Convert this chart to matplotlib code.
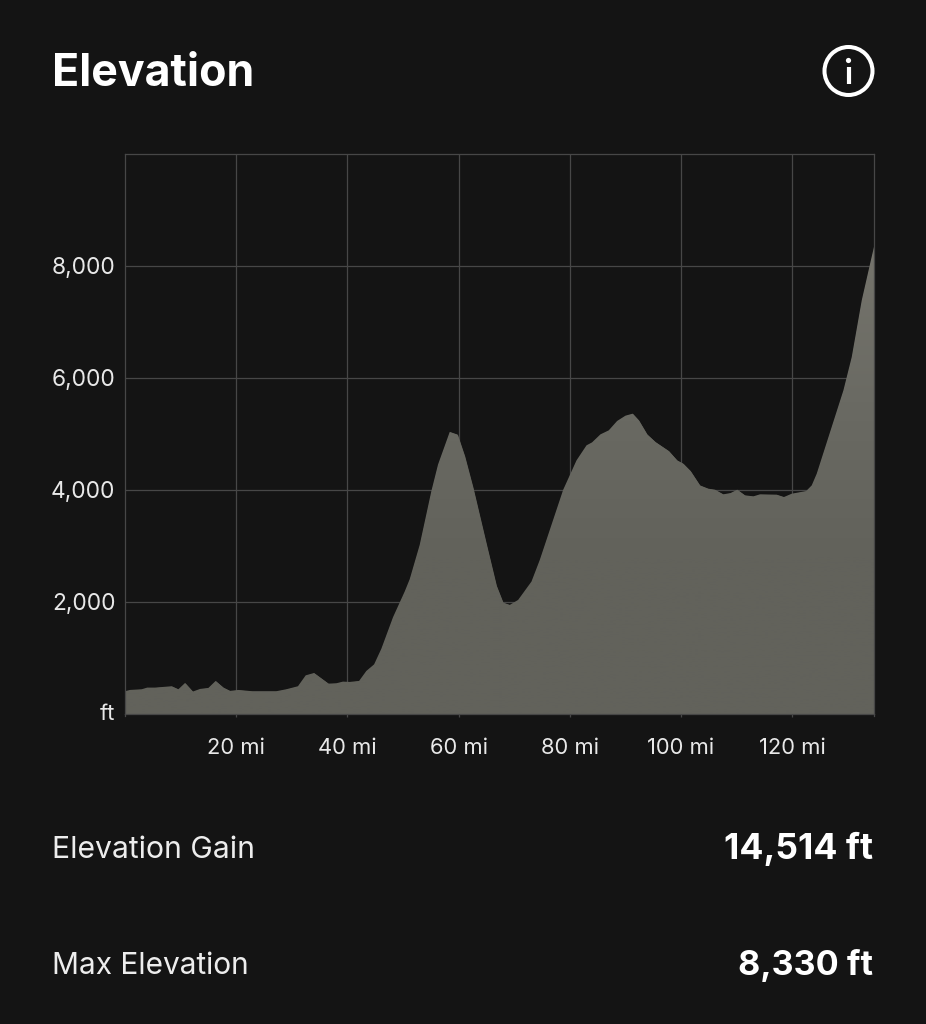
import numpy as np
import matplotlib
matplotlib.use("Agg")
import matplotlib.pyplot as plt
from matplotlib.patches import Circle
from matplotlib.colors import LinearSegmentedColormap

miles = [0, 0.9, 3, 4, 5.4, 8.4, 9.6, 10.8, 12.2, 13.5, 15, 16.3, 17.7, 18.9, 20.4, 22.9, 27.2, 29, 31.1,
         32.5, 34, 35.3, 36.6, 38, 39.2, 40.4, 42.1, 43.4, 44.8, 46.1, 48.2, 50.3, 51.2, 53, 55.1, 56.3,
         58.4, 59.8, 61.1, 62.6, 65, 66.8, 68, 69.2, 70.7, 73.1, 74.6, 76.4, 78.8, 81.2, 83, 84, 85.5,
         87, 88.5, 90, 91.3, 92.4, 93.9, 95.4, 97.8, 99.3, 100.4, 101.7, 103.4, 104.9, 106.1, 107.6, 108.9,
         110.1, 111.5, 113, 114.2, 117.2, 118.5, 119.9, 122.5, 123.5, 124.4, 129.2, 130.7, 132.5, 134, 134.7]
elev = [398, 421, 433, 463, 463, 487, 433, 546, 392, 439, 457, 582, 463, 404, 421, 398, 398, 433, 487,
        682, 724, 629, 534, 540, 570, 564, 582, 760, 878, 1157, 1721, 2180, 2400, 3014, 3976, 4451,
        5033, 4985, 4600, 4036, 3027, 2285, 1982, 1941, 2030, 2358, 2746, 3283, 3998, 4524, 4793, 4846, 4989,
        5061, 5228, 5323, 5359, 5240, 4989, 4852, 4691, 4524, 4465, 4334, 4077, 4018, 4000, 3917, 3940,
        4000, 3899, 3881, 3917, 3911, 3869, 3928, 3976, 4077, 4286, 5776, 6372, 7385, 8040, 8340]
x_ticks = [20, 40, 60, 80, 100, 120]
y_ticks = [2000, 4000, 6000, 8000]
x_labels = ["20 mi", "40 mi", "60 mi", "80 mi", "100 mi", "120 mi"]
y_labels = ["2,000", "4,000", "6,000", "8,000"]
title = "Elevation"
stat_names = ["Elevation Gain", "Max Elevation"]
stat_values = ["14,514 ft", "8,330 ft"]

W, H = 926, 1024
BG = "#141414"
GRID = "#474747"
LABEL = "#e8e8e8"
plt.rcParams["font.family"] = ["Inter", "DejaVu Sans"]

fig = plt.figure(figsize=(W / 100, H / 100), dpi=100, facecolor=BG)
ax = fig.add_axes([125 / W, 1 - 713.5 / H, (874 - 125) / W, (713.5 - 154) / H], facecolor=BG)
ax.set_xlim(0, 134.7)
ax.set_ylim(0, 10000)

ax.set_xticks(x_ticks, x_labels)
ax.set_yticks(y_ticks, y_labels)
ax.grid(True, color=GRID, lw=0.9, zorder=1)
ax.set_axisbelow(True)
for s in ax.spines.values():
    s.set_color(GRID)
    s.set_linewidth(0.9)
    s.set_zorder(5)
ax.tick_params(axis="x", length=2.2, width=0.9, color=GRID, labelcolor=LABEL, labelsize=15.8, pad=15.5)
ax.tick_params(axis="y", length=0, labelcolor=LABEL, labelsize=16.4, pad=7)
ax.text(-1.7, 0, "ft", ha="right", va="center", color=LABEL, fontsize=15.8)
ax.plot([134.7, 134.7], [0, -40], color=GRID, lw=0.9, clip_on=False)
ax.plot([0, 0], [0, -40], color=GRID, lw=0.9, clip_on=False)

# filled profile with a faint vertical gradient
poly = ax.fill_between(miles, elev, 0, color="#62625b", lw=0, zorder=2)
cmap = LinearSegmentedColormap.from_list("elev", ["#62625b", "#62625b", "#6a6a63", "#75746c"])
im = ax.imshow(np.linspace(0, 1, 256).reshape(-1, 1), extent=[0, 134.7, 0, 8340], origin="lower",
               aspect="auto", cmap=cmap, zorder=3)
im.set_clip_path(poly.get_paths()[0], transform=ax.transData)
ax.set_xlim(0, 134.7)
ax.set_ylim(0, 10000)

fig.text(52 / W, 1 - 74 / H, title, fontsize=32.2, fontweight="bold", ha="left", va="center", color="white")
fig.text(52 / W, 1 - 850 / H, stat_names[0], fontsize=21.7, ha="left", va="center", color="#ededed")
fig.text(52 / W, 1 - 966 / H, stat_names[1], fontsize=21.5, ha="left", va="center", color="#ededed")
fig.text(873 / W, 1 - 849 / H, stat_values[0], fontsize=25.6, fontweight="bold", ha="right", va="center", color="white")
fig.text(873 / W, 1 - 965 / H, stat_values[1], fontsize=24.6, fontweight="bold", ha="right", va="center", color="white")

# info icon
ov = fig.add_axes([0, 0, 1, 1], facecolor="none", zorder=10)
ov.set_xlim(0, W)
ov.set_ylim(H, 0)
ov.axis("off")
ov.add_patch(Circle((848.5, 71), 24, fc="none", ec="white", lw=2.9))
ov.add_patch(Circle((848.5, 60.5), 2.6, fc="white", ec="none"))
ov.plot([848.5, 848.5], [67, 84], color="white", lw=3, solid_capstyle="butt")

fig.savefig("out.png", dpi=100, facecolor=BG)
